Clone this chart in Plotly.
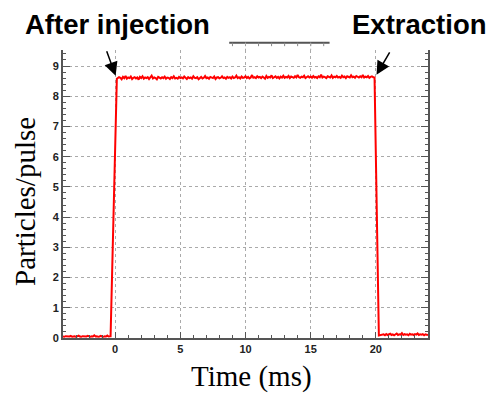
import numpy as np
import plotly.graph_objects as go

# Beam intensity measured through one spill (time in ms, particles per pulse)
t_pre = np.round(np.linspace(-4.0, -0.4, 37), 2)
pre_vals = [0.05, 0.04, 0.06, 0.05, 0.04, 0.05, 0.07, 0.04, 0.05, 0.06,
            0.04, 0.05, 0.08, 0.05, 0.04, 0.06, 0.05, 0.04, 0.05, 0.07,
            0.05, 0.04, 0.06, 0.05, 0.09, 0.05, 0.06, 0.04, 0.05, 0.07,
            0.05, 0.04, 0.06, 0.05, 0.08, 0.05, 0.06]

# rising edge just after injection
t_rise = [-0.35, 0.13]
rise_vals = [0.06, 8.58]

t_flat = np.round(np.linspace(0.2, 19.8, 197), 2)
flat_vals = [8.59, 8.63, 8.61, 8.56, 8.64, 8.60, 8.67, 8.58, 8.62, 8.60,
             8.65, 8.57, 8.61, 8.63, 8.59, 8.62, 8.55, 8.64, 8.60, 8.66,
             8.58, 8.62, 8.60, 8.63, 8.57, 8.61, 8.68, 8.59, 8.62, 8.60,
             8.56, 8.64, 8.61, 8.59, 8.63, 8.60, 8.65, 8.58, 8.62, 8.61,
             8.57, 8.63, 8.60, 8.66, 8.59, 8.61, 8.58, 8.64, 8.60, 8.62,
             8.59, 8.65, 8.61, 8.57, 8.63, 8.60, 8.62, 8.58, 8.66, 8.61,
             8.60, 8.63, 8.56, 8.62, 8.64, 8.59, 8.61, 8.67, 8.60, 8.62,
             8.58, 8.64, 8.61, 8.60, 8.65, 8.57, 8.62, 8.63, 8.59, 8.61,
             8.66, 8.60, 8.62, 8.58, 8.64, 8.61, 8.63, 8.59, 8.65, 8.60,
             8.62, 8.68, 8.60, 8.63, 8.59, 8.65, 8.61, 8.62, 8.66, 8.60,
             8.64, 8.59, 8.62, 8.70, 8.61, 8.63, 8.60, 8.66, 8.62, 8.64,
             8.60, 8.65, 8.62, 8.58, 8.67, 8.61, 8.64, 8.62, 8.69, 8.60,
             8.63, 8.66, 8.61, 8.64, 8.59, 8.65, 8.62, 8.68, 8.61, 8.64,
             8.62, 8.67, 8.60, 8.65, 8.63, 8.61, 8.66, 8.62, 8.70, 8.63,
             8.61, 8.65, 8.63, 8.68, 8.60, 8.64, 8.66, 8.62, 8.65, 8.61,
             8.67, 8.62, 8.64, 8.60, 8.66, 8.63, 8.71, 8.62, 8.65, 8.63,
             8.60, 8.66, 8.64, 8.62, 8.69, 8.61, 8.65, 8.63, 8.67, 8.62,
             8.64, 8.61, 8.68, 8.63, 8.65, 8.60, 8.66, 8.64, 8.62, 8.69,
             8.63, 8.65, 8.61, 8.67, 8.64, 8.62, 8.66, 8.63, 8.70, 8.62,
             8.65, 8.63, 8.67, 8.61, 8.64, 8.66, 8.63]

# falling edge at extraction
t_fall = [19.9, 20.23]
fall_vals = [8.62, 0.08]

t_post = np.round(np.linspace(20.3, 24.0, 38), 2)
post_vals = [0.09, 0.11, 0.10, 0.12, 0.09, 0.13, 0.10, 0.11, 0.14, 0.10,
             0.12, 0.09, 0.11, 0.15, 0.10, 0.12, 0.11, 0.16, 0.10, 0.13,
             0.11, 0.12, 0.09, 0.14, 0.11, 0.12, 0.10, 0.13, 0.11, 0.15,
             0.10, 0.12, 0.11, 0.13, 0.09, 0.12, 0.11, 0.10]

x_range = [-4, 24]
y_range = [0, 9.53]

t_all = list(t_pre) + t_rise + list(t_flat) + t_fall + list(t_post)
v_all = pre_vals + rise_vals + flat_vals + fall_vals + post_vals

fig = go.Figure()
fig.add_trace(go.Scatter(x=t_all, y=v_all, mode="lines",
                         line=dict(color="#ff0000", width=2),
                         showlegend=False, hoverinfo="skip"))
# helper trace so the mirrored right-hand axis is rendered
fig.add_trace(go.Scatter(x=[x_range[0]], y=[y_range[0]], yaxis="y2",
                         mode="markers", marker=dict(opacity=0),
                         showlegend=False, hoverinfo="skip"))

axis_col = "#555555"
tick_font = dict(family="Liberation Sans", size=11, color="#222222", weight="bold")

fig.update_layout(
    width=490, height=397,
    margin=dict(l=63, r=62, t=50, b=59),
    paper_bgcolor="white", plot_bgcolor="white",
    xaxis=dict(range=x_range, dtick=5, tick0=0,
               showline=True, linecolor=axis_col, linewidth=2,
               ticks="inside", ticklen=6, tickcolor=axis_col, tickwidth=1,
               tickfont=tick_font, zeroline=False,
               showgrid=True, gridcolor="#aaaaaa", griddash="dot", gridwidth=1,
               minor=dict(dtick=1, ticks="inside", ticklen=3,
                          tickcolor=axis_col, showgrid=False)),
    yaxis=dict(range=y_range, dtick=1, tick0=0,
               showline=True, linecolor=axis_col, linewidth=2,
               ticks="inside", ticklen=7, tickcolor=axis_col, tickwidth=1,
               tickfont=tick_font, zeroline=False,
               showgrid=True, gridcolor="#aaaaaa", griddash="dot", gridwidth=1,
               minor=dict(dtick=0.2, ticks="inside", ticklen=3,
                          tickcolor=axis_col, showgrid=False)),
    yaxis2=dict(range=y_range, overlaying="y", side="right", dtick=1, tick0=0,
                showline=True, linecolor=axis_col, linewidth=2,
                ticks="inside", ticklen=7, tickcolor=axis_col, tickwidth=1,
                showticklabels=False, showgrid=False, zeroline=False,
                minor=dict(dtick=0.2, ticks="inside", ticklen=3,
                           tickcolor=axis_col, showgrid=False)),
)

# short framing bar above the plot with its own tick marks
bar_y = 1.0253
fig.add_shape(type="line", xref="x", yref="paper", x0=8.75, x1=16.45,
              y0=bar_y, y1=bar_y, line=dict(color=axis_col, width=2))
for tx in range(9, 17):
    fig.add_shape(type="line", xref="x", yref="paper", x0=tx, x1=tx,
                  y0=bar_y, y1=bar_y - 0.012, line=dict(color="#888888", width=1))
for tx in (10, 15):
    fig.add_shape(type="line", xref="x", yref="paper", x0=tx, x1=tx,
                  y0=bar_y, y1=1.0, line=dict(color="#aaaaaa", width=1, dash="dot"))

label_font = dict(family="Liberation Sans", size=27.5, color="black", weight="bold")
fig.add_annotation(text="After injection", xref="paper", yref="paper",
                   x=(22.5 - 63) / 365, y=1 + (50 - 25) / 288,
                   xanchor="left", yanchor="middle", showarrow=False, font=label_font)
fig.add_annotation(text="Extraction", xref="paper", yref="paper",
                   x=(350 - 63) / 365, y=1 + (50 - 25) / 288,
                   xanchor="left", yanchor="middle", showarrow=False, font=label_font)

# arrows pointing at the two edges of the spill
fig.add_annotation(text="", x=0.04, y=8.68, xref="x", yref="y",
                   ax=-9.5, ay=-26, showarrow=True, arrowhead=2,
                   arrowsize=1.8, arrowwidth=1.5, arrowcolor="black")
fig.add_annotation(text="", x=20.05, y=8.71, xref="x", yref="y",
                   ax=14, ay=-24, showarrow=True, arrowhead=2,
                   arrowsize=1.8, arrowwidth=1.5, arrowcolor="black")

title_font = dict(family="Liberation Serif", size=29, color="black")
fig.add_annotation(text="Particles/pulse", xref="paper", yref="paper",
                   x=(25 - 63) / 365, y=(338 - 202) / 288, textangle=-90,
                   xanchor="center", yanchor="middle", showarrow=False, font=title_font)
fig.add_annotation(text="Time (ms)", xref="paper", yref="paper",
                   x=(251 - 63) / 365, y=-(376 - 338) / 288,
                   xanchor="center", yanchor="middle", showarrow=False, font=title_font)

fig.write_html("out.html")
